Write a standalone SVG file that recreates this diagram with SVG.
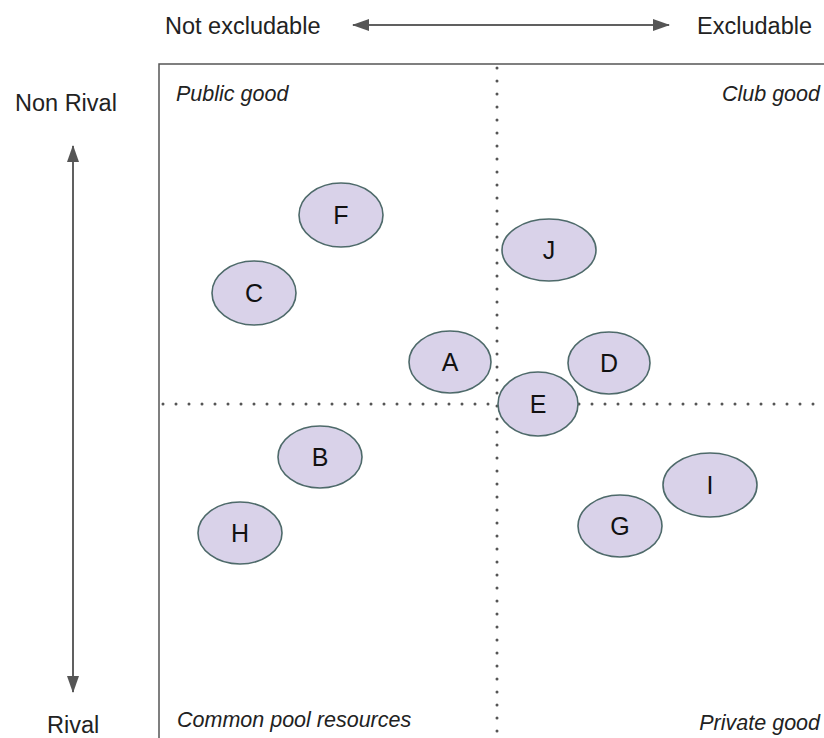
<svg xmlns="http://www.w3.org/2000/svg" width="824" height="738" viewBox="0 0 824 738">
<style>
.ax{font-family:"Liberation Sans",Arial,sans-serif;font-size:23.5px;fill:#222}
.q{font-family:"Liberation Sans",Arial,sans-serif;font-size:21.5px;font-style:italic;fill:#222}
.n ellipse{fill:#d9d2e9;stroke:#4e6a6a;stroke-width:1.6}
.n text{font-family:"Liberation Sans",Arial,sans-serif;font-size:25px;fill:#111;text-anchor:middle}
.dot{stroke:#555;stroke-width:3;stroke-linecap:round;stroke-dasharray:0 13;fill:none}
.arr{stroke:#606060;stroke-width:2;fill:none}
</style>
<defs>
<marker id="ah" viewBox="0 0 17 12" refX="16" refY="6" markerWidth="17" markerHeight="12" markerUnits="userSpaceOnUse" orient="auto-start-reverse">
<path d="M0,0 L17,6 L0,12 z" fill="#555"/>
</marker>
</defs>
<rect width="824" height="738" fill="#fff"/>
<g id="frame">
<path d="M159,738 V64 H824" fill="none" stroke="#555" stroke-width="1.5"/>
<line class="dot" x1="497" y1="68" x2="497" y2="738"/>
<line class="dot" x1="163" y1="404" x2="824" y2="404"/>
</g>
<g id="axes">
<line class="arr" x1="353" y1="25" x2="669" y2="25" marker-start="url(#ah)" marker-end="url(#ah)"/>
<line class="arr" x1="73" y1="146" x2="73" y2="692" marker-start="url(#ah)" marker-end="url(#ah)"/>
<text class="ax" x="165" y="34">Not excludable</text>
<text class="ax" x="812" y="34" text-anchor="end">Excludable</text>
<text class="ax" x="15" y="111">Non Rival</text>
<text class="ax" x="47" y="733">Rival</text>
</g>
<g id="quadrant-labels">
<text class="q" x="176" y="101">Public good</text>
<text class="q" x="820" y="101" text-anchor="end">Club good</text>
<text class="q" x="177" y="727">Common pool resources</text>
<text class="q" x="820" y="730" text-anchor="end">Private good</text>
</g>
<g id="F" class="n"><ellipse cx="341" cy="215" rx="42" ry="32"/><text x="341" y="224">F</text></g>
<g id="C" class="n"><ellipse cx="254" cy="293" rx="42" ry="32"/><text x="254" y="302">C</text></g>
<g id="J" class="n"><ellipse cx="549" cy="250" rx="47" ry="31"/><text x="549" y="259">J</text></g>
<g id="A" class="n"><ellipse cx="450" cy="362" rx="41" ry="31"/><text x="450" y="371">A</text></g>
<g id="D" class="n"><ellipse cx="609" cy="363" rx="41" ry="31"/><text x="609" y="372">D</text></g>
<g id="E" class="n"><ellipse cx="538" cy="404" rx="40" ry="32"/><text x="538" y="413">E</text></g>
<g id="B" class="n"><ellipse cx="320" cy="457" rx="42" ry="31"/><text x="320" y="466">B</text></g>
<g id="H" class="n"><ellipse cx="240" cy="533" rx="42" ry="31"/><text x="240" y="542">H</text></g>
<g id="I" class="n"><ellipse cx="710" cy="485" rx="47" ry="32"/><text x="710" y="494">I</text></g>
<g id="G" class="n"><ellipse cx="620" cy="526" rx="42" ry="31"/><text x="620" y="535">G</text></g>
<g id="connectors"></g>
</svg>
